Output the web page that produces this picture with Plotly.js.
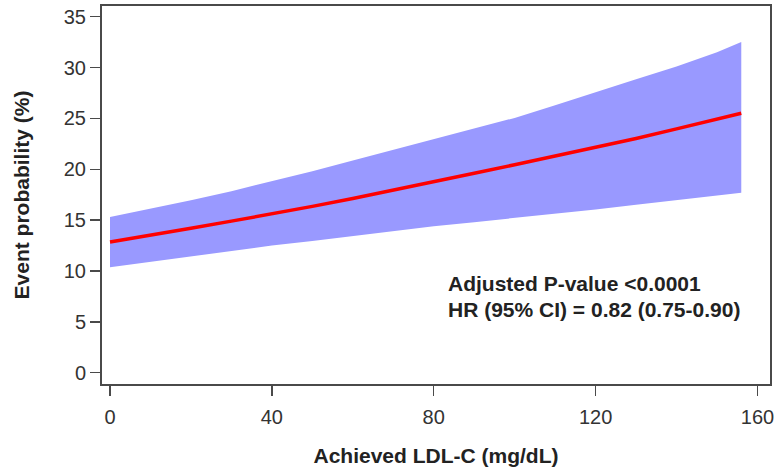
<!DOCTYPE html>
<html>
<head>
<meta charset="utf-8">
<script src="https://cdn.plot.ly/plotly-3.0.1.min.js"></script>
<style>html,body{margin:0;padding:0;background:#fff;}#chart{width:777px;height:467px;}</style>
</head>
<body>
<div id="chart"></div>
<script>
// Achieved LDL-C (mg/dL)
const ldl = [0, 10, 20, 30, 40, 50, 60, 70, 80, 90, 100, 110, 120, 130, 140, 150, 156];
// Event probability (%) - estimate
const prob = [12.85, 13.5, 14.2, 14.9, 15.6, 16.35, 17.12, 17.92, 18.75, 19.6, 20.45, 21.3, 22.15, 23.03, 23.97, 24.95, 25.5];
// 95% CI bounds
const upper = [15.3, 16.1, 16.95, 17.85, 18.8, 19.8, 20.85, 21.9, 22.95, 24.0, 25.05, 26.3, 27.6, 28.85, 30.1, 31.5, 32.5];
const lower = [10.36, 10.9, 11.45, 11.95, 12.5, 12.95, 13.45, 13.9, 14.4, 14.8, 15.2, 15.6, 16.05, 16.5, 16.95, 17.4, 17.7];
const xTicks = [0, 40, 80, 120, 160];
const yTicks = [0, 5, 10, 15, 20, 25, 30, 35];
const noteLines = ["Adjusted P-value <0.0001", "HR (95% CI) = 0.82 (0.75-0.90)"];

const font = "'Liberation Sans', Arial, Helvetica, sans-serif";

const traces = [
  {x: ldl, y: lower, mode: 'lines', line: {width: 0, color: '#9999FF'}, hoverinfo: 'skip', showlegend: false},
  {x: ldl, y: upper, mode: 'lines', line: {width: 0, color: '#9999FF'}, fill: 'tonexty', fillcolor: '#9999FF', hoverinfo: 'skip', showlegend: false},
  {x: ldl, y: prob, mode: 'lines', line: {width: 3.5, color: '#FF0000'}, showlegend: false}
];

const layout = {
  width: 777, height: 467,
  margin: {l: 102, r: 7, t: 6, b: 83},
  paper_bgcolor: '#ffffff', plot_bgcolor: '#ffffff',
  font: {family: font, size: 20, color: '#333333'},
  showlegend: false,
  xaxis: {
    range: [-1.98, 163.1], tickvals: xTicks, ticktext: xTicks.map(String),
    showgrid: false, zeroline: false, showline: true, mirror: true,
    linecolor: '#4a4a4a', linewidth: 2,
    ticks: 'outside', ticklen: 10, tickwidth: 1.5, tickcolor: '#4a4a4a',
    ticklabelstandoff: 4,
    tickfont: {family: font, size: 20, color: '#333333'},
    title: {text: 'Achieved LDL-C (mg/dL)', font: {family: font, size: 21, color: '#222222', weight: 'bold'}, standoff: 21}
  },
  yaxis: {
    range: [-1.11, 36.05], tickvals: yTicks, ticktext: yTicks.map(String),
    showgrid: false, zeroline: false, showline: true, mirror: true,
    linecolor: '#4a4a4a', linewidth: 2,
    ticks: 'outside', ticklen: 10, tickwidth: 1.5, tickcolor: '#4a4a4a',
    tickfont: {family: font, size: 20, color: '#333333'},
    title: {text: 'Event probability (%)', font: {family: font, size: 21, color: '#222222', weight: 'bold'}, standoff: 28}
  },
  annotations: [
    {x: 83, y: 8.8, xref: 'x', yref: 'y', xanchor: 'left', yanchor: 'middle', showarrow: false,
     text: noteLines[0], font: {family: font, size: 21, color: '#222222', weight: 'bold'}},
    {x: 83, y: 6.25, xref: 'x', yref: 'y', xanchor: 'left', yanchor: 'middle', showarrow: false,
     text: noteLines[1], font: {family: font, size: 21, color: '#222222', weight: 'bold'}}
  ]
};

Plotly.newPlot('chart', traces, layout, {displayModeBar: false, staticPlot: true});
</script>
</body>
</html>
